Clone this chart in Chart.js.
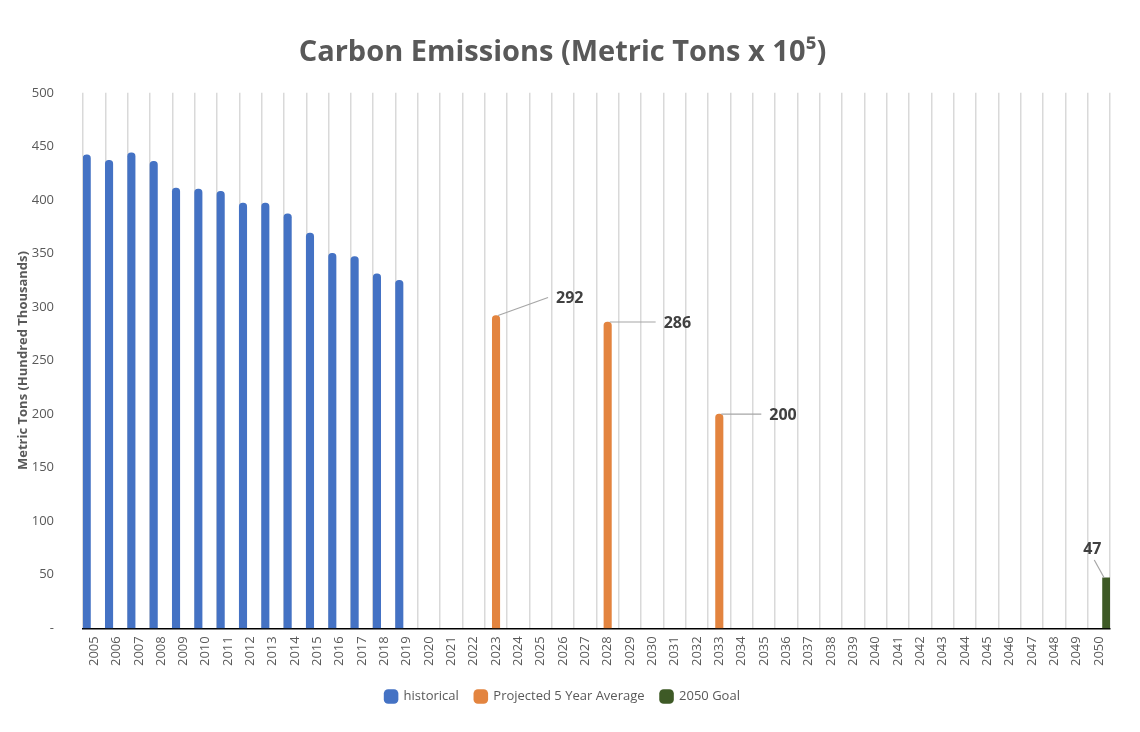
<!DOCTYPE html>
<html>
<head>
<meta charset="utf-8">
<script src="https://cdn.jsdelivr.net/npm/chart.js@4.4.0/dist/chart.umd.min.js"></script>
<style>
  html, body { margin: 0; padding: 0; background: #ffffff; }
  #wrap { width: 1140px; height: 732px; position: relative; }
</style>
</head>
<body>
<div id="wrap"><canvas id="emissionsChart"></canvas></div>
<script>
// categories: 2005 .. 2050
var years = [];
for (var y = 2005; y <= 2050; y++) { years.push(String(y)); }

// historical emissions, 2005-2019 (hundred thousand metric tons)
var historical = [442, 437, 444, 436, 411, 410, 408, 397, 397, 387, 369, 350, 347, 331, 325];
// projected 5 year averages
var projectedYears = ['2023', '2028', '2033'];
var projectedValues = [292, 286, 200];
// goal
var goalYears = ['2050'];
var goalValues = [47];

var yTicks = [0, 50, 100, 150, 200, 250, 300, 350, 400, 450, 500];

function spread(labels, values) {
    return years.map(function(yr) {
        var i = labels.indexOf(yr);
        return i >= 0 ? values[i] : null;
    });
}

var histData = years.map(function(yr, i) {
    return i < historical.length ? historical[i] : null;
});
var projData = spread(projectedYears, projectedValues);
var goalData = spread(goalYears, goalValues);

// leader-line label offsets (dx, dy from bar top) per labelled dataset
var labelOffsets = {
    1: [[52, -18], [48, 0], [42, 0]],
    2: [[-14, -12]]
};

var calloutPlugin = {
    id: 'callouts',
    afterDatasetsDraw: function(chart) {
        var ctx = chart.ctx;
        [1, 2].forEach(function(dsIndex) {
            var meta = chart.getDatasetMeta(dsIndex);
            var data = chart.data.datasets[dsIndex].data;
            var n = 0;
            meta.data.forEach(function(bar, i) {
                if (data[i] === null) { return; }
                var off = labelOffsets[dsIndex][n++];
                var x0 = bar.x + 2, y0 = bar.y;
                var x1 = bar.x + off[0], y1 = bar.y + off[1];
                ctx.save();
                ctx.strokeStyle = '#a6a6a6';
                ctx.lineWidth = 1.2;
                ctx.beginPath();
                if (dsIndex === 2) {
                    ctx.moveTo(bar.x - 2, y0);
                    ctx.lineTo(x1 + 2, y1 - 6);
                } else {
                    ctx.moveTo(x0, y0);
                    ctx.lineTo(x1, y1);
                }
                ctx.stroke();
                ctx.fillStyle = '#404040';
                ctx.font = 'bold 16px "Open Sans", sans-serif';
                if (dsIndex === 2) {
                    ctx.textAlign = 'center';
                    ctx.textBaseline = 'bottom';
                    ctx.fillText(String(data[i]), x1, y1 - 8);
                } else {
                    ctx.textAlign = 'left';
                    ctx.textBaseline = 'middle';
                    ctx.fillText(String(data[i]), x1 + 8, y1 + 1);
                }
                ctx.restore();
            });
        });
    }
};

new Chart(document.getElementById('emissionsChart'), {
    type: 'bar',
    data: {
        labels: years,
        datasets: [
            {
                label: 'historical',
                data: histData,
                backgroundColor: '#4472C4',
                borderRadius: 4,
                barPercentage: 1.0,
                categoryPercentage: 1.0
            },
            {
                label: 'Projected 5 Year Average',
                data: projData,
                backgroundColor: '#E3843F',
                borderRadius: 4,
                barPercentage: 1.0,
                categoryPercentage: 1.0
            },
            {
                label: '2050 Goal',
                data: goalData,
                backgroundColor: '#3E5A26',
                barPercentage: 1.0,
                categoryPercentage: 1.0
            }
        ]
    },
    options: {
        responsive: true,
        maintainAspectRatio: false,
        animation: false,
        layout: {
            padding: { left: 15, right: 30, top: 20, bottom: 19 }
        },
        scales: {
            x: {
                grid: {
                    display: true,
                    color: '#d9d9d9',
                    lineWidth: 1.5,
                    drawTicks: false,
                    offset: true
                },
                border: { display: true, color: '#000000', width: 1.5 },
                ticks: {
                    color: '#595959',
                    font: { family: 'Open Sans', size: 13 },
                    maxRotation: 90,
                    minRotation: 90,
                    autoSkip: false,
                    padding: 8
                }
            },
            y: {
                min: 0,
                max: 500,
                grid: { display: false },
                border: { display: false },
                afterBuildTicks: function(axis) {
                    axis.ticks = yTicks.map(function(v) { return { value: v }; });
                },
                afterFit: function(axis) {
                    axis.width = 68;
                },
                ticks: {
                    color: '#595959',
                    font: { family: 'Open Sans', size: 13 },
                    padding: 21,
                    callback: function(v) { return v === 0 ? '-' : v; }
                },
                title: {
                    display: true,
                    text: 'Metric Tons (Hundred Thousands)',
                    color: '#595959',
                    font: { family: 'Open Sans', size: 13, weight: 'bold' },
                    padding: { top: 0, bottom: 4 }
                }
            }
        },
        plugins: {
            title: {
                display: true,
                text: 'Carbon Emissions (Metric Tons x 10\u2075)',
                color: '#595959',
                font: { family: 'Open Sans', size: 29, weight: 'bold' },
                padding: { top: 15, bottom: 23 }
            },
            legend: {
                position: 'bottom',
                labels: {
                    color: '#595959',
                    font: { family: 'Open Sans', size: 13 },
                    usePointStyle: true,
                    pointStyle: 'rectRounded',
                    boxWidth: 12,
                    boxHeight: 12,
                    padding: 16
                }
            },
            tooltip: { enabled: false }
        }
    },
    plugins: [calloutPlugin]
});
</script>
</body>
</html>
